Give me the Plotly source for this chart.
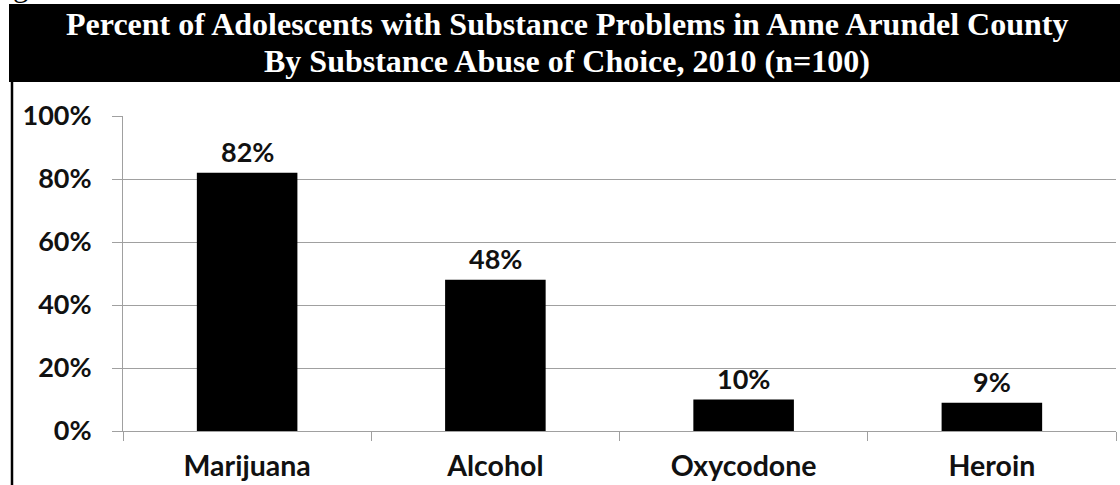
import plotly.graph_objects as go

categories = ["Marijuana", "Alcohol", "Oxycodone", "Heroin"]
values = [0.82, 0.48, 0.10, 0.09]
labels = ["82%", "48%", "10%", "9%"]
tick_vals = [0, 0.2, 0.4, 0.6, 0.8, 1.0]
tick_text = ["0%", "20%", "40%", "60%", "80%", "100%"]
title_lines = [
    "Percent of Adolescents with Substance Problems in Anne Arundel County",
    "By Substance Abuse of Choice, 2010 (n=100)",
]

W, H = 1120, 485
L, R, T, B = 123, 4, 116, 54
pw, ph = W - L - R, H - T - B

def px(x):
    return (x - L) / pw

def py(y):
    return (H - B - y) / ph

TICK_FONT = dict(family="Lato", size=27, color="#111111", weight="bold")
CAT_FONT = dict(family="Lato", size=28.5, color="#111111", weight="bold")

fig = go.Figure()
fig.add_trace(go.Bar(
    x=categories, y=values, marker=dict(color="black", line=dict(width=0)),
    width=0.405, hoverinfo="skip",
))

for c, v, t in zip(categories, values, labels):
    fig.add_annotation(x=c, y=v, text=t, showarrow=False, xref="x", yref="y",
                       yanchor="bottom", yshift=3, font=TICK_FONT)

# header band
fig.add_shape(type="rect", xref="paper", yref="paper",
              x0=px(9), x1=px(1125), y0=py(82), y1=py(4),
              fillcolor="black", line=dict(width=0), layer="above")
# left border
fig.add_shape(type="line", xref="paper", yref="paper",
              x0=px(12), x1=px(12), y0=py(82), y1=py(490),
              line=dict(color="black", width=2.5))

# fragment of the caption line above the band
fig.add_annotation(x=px(11), y=py(5), xref="paper", yref="paper", text="g",
                   showarrow=False, xanchor="left", yanchor="bottom",
                   font=dict(family="Liberation Serif", size=31, color="black"))

for line, yc in zip(title_lines, [24, 61]):
    fig.add_annotation(x=px(567), y=py(yc), xref="paper", yref="paper", text="<b>%s</b>" % line,
                       showarrow=False, xanchor="center", yanchor="middle",
                       font=dict(family="Liberation Serif", size=32, color="white"))

fig.update_layout(
    width=W, height=H,
    margin=dict(l=L, r=R, t=T, b=B, pad=0),
    paper_bgcolor="white", plot_bgcolor="white",
    showlegend=False, bargap=0.6,
    xaxis=dict(range=[-0.5, 3.5], showline=True, linecolor="#A0A0A0", linewidth=1,
               ticks="outside", tickson="boundaries", ticklen=9, tickcolor="#A0A0A0",
               tickwidth=1, showgrid=False, tickfont=CAT_FONT, ticklabelstandoff=10,
               fixedrange=True),
    yaxis=dict(range=[0, 1], tickvals=tick_vals, ticktext=tick_text, showline=True,
               linecolor="#A0A0A0", linewidth=1, ticks="outside", ticklen=10,
               tickcolor="#A0A0A0", tickwidth=1, showgrid=True, gridcolor="#A0A0A0",
               gridwidth=1, zeroline=False, tickfont=TICK_FONT, ticklabelstandoff=15,
               fixedrange=True),
)

fig.write_html("out.html", config=dict(displayModeBar=False))
